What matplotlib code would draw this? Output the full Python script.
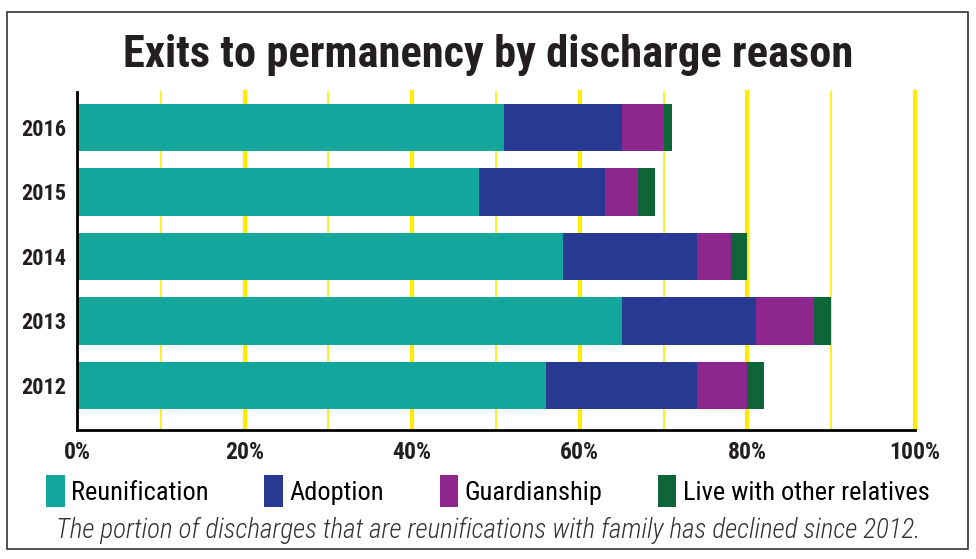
import matplotlib
matplotlib.use('Agg')
import matplotlib.pyplot as plt
from matplotlib.patches import Rectangle, Patch
import numpy as np

# data (percent of exits)
years = ['2012', '2013', '2014', '2015', '2016']
reunification = [56, 65, 58, 48, 51]
adoption = [18, 16, 16, 15, 14]
guardianship = [6, 7, 4, 4, 5]
relatives = [2, 2, 2, 2, 1]

series = [reunification, adoption, guardianship, relatives]
names = ['Reunification', 'Adoption', 'Guardianship', 'Live with other relatives']
colors = ['#12A69C', '#283991', '#8E278D', '#0E6638']
yellow = '#FFEC00'

cond = ['Roboto Condensed', 'DejaVu Sans']

fig = plt.figure(figsize=(9.76, 5.59), dpi=100)
W, H = 976, 559

# outer frame
fig.patches.append(Rectangle((7 / W, 1 - 549 / H), 961 / W, 537 / H,
                             transform=fig.transFigure, fill=False,
                             edgecolor='#333333', linewidth=1.2))

ax = fig.add_axes([77 / W, 1 - 430 / H, (915 - 77) / W, (430 - 92) / H])

# gridlines: thick every 20, thin at the odd tens
for g in range(10, 101, 10):
    thick = (g % 20 == 0)
    ax.axvline(g, color=yellow, linewidth=3 if thick else 1.2, zorder=0, clip_on=False)

y = np.arange(len(years))
left = np.zeros(len(years))
for vals, name, c in zip(series, names, colors):
    ax.barh(y, vals, left=left, height=0.73, color=c, label=name, zorder=2)
    left += np.array(vals)

ax.set_xlim(0, 100)
ax.set_ylim(-0.69, 4.55)
ax.set_yticks(y)
ax.set_yticklabels(years, family=cond, fontweight='bold', fontsize=16, color='#231F20')
ax.set_xticks(range(0, 101, 20))
ax.set_xticklabels(['%d%%' % v for v in range(0, 101, 20)], family=cond,
                   fontweight='bold', fontsize=17, color='#231F20')
ax.tick_params(length=0, pad=8)
ax.tick_params(axis='x', pad=8)
for s in ['top', 'right']:
    ax.spines[s].set_visible(False)
ax.spines['left'].set_linewidth(2)
ax.spines['bottom'].set_linewidth(2)

fig.text(0.5, 1 - 55 / H, 'Exits to permanency by discharge reason', ha='center',
         va='center', family=cond, fontweight='bold', fontsize=32, color='#231F20')

handles = [Patch(facecolor=c) for c in colors]
fig.legend(handles, names, loc='center', bbox_to_anchor=(0.5, 1 - 491 / H), ncol=4,
           frameon=False, handlelength=0.7, handleheight=1.5, handletextpad=0.25,
           columnspacing=2.1, prop={'family': cond, 'size': 19})

fig.text(0.5, 1 - 530 / H,
         'The portion of discharges that are reunifications with family has declined since 2012.',
         ha='center', va='center', family=cond, style='italic', fontweight='light',
         fontsize=19.5, color='#333333')

fig.savefig('out.png', dpi=100)
